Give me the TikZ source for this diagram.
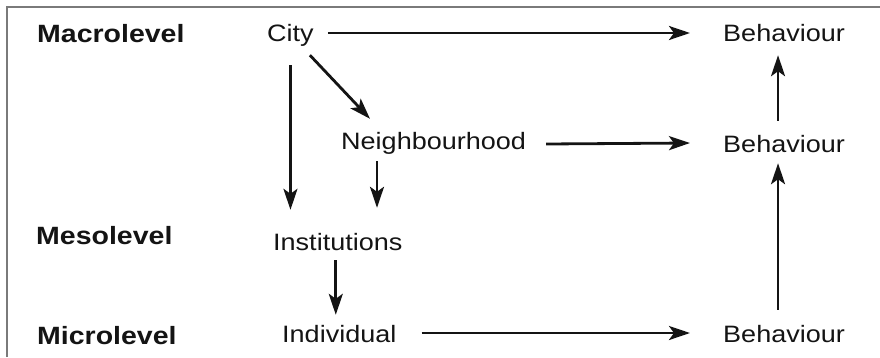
\documentclass[tikz,border=0pt]{standalone}
\usepackage{fontspec}
\setmainfont{Liberation Sans}[FakeStretch=1.14]
\usetikzlibrary{arrows.meta}
\definecolor{ink}{HTML}{141414}
\definecolor{framecol}{HTML}{7A7A7A}
\tikzset{
  lbl/.style={anchor=base west, inner sep=0pt, text=ink, text height=17pt, text depth=5pt,
              font=\fontsize{23.7pt}{28pt}\selectfont},
  lvl/.style={anchor=base west, inner sep=0pt, text=ink, text height=18pt, text depth=5pt,
              font=\fontsize{25pt}{30pt}\selectfont\bfseries},
  arr/.style={draw=ink, line width=2.8pt, -{Stealth[length=21pt, width=14pt, inset=5pt]}}
}
\begin{document}
\begin{tikzpicture}[x=1pt, y=-1pt]
\useasboundingbox (0,0) rectangle (880,357);
\draw[framecol, line width=2pt] (7,357) -- (7,7) -- (880,7);
% level labels
\node[lvl] (macro) at (37,42) {Macrolevel};
\node[lvl] (meso) at (36,244) {Mesolevel};
\node[lvl] (micro) at (37,344) {Microlevel};
% nodes
\node[lbl] (city) at (267,41) {City};
\node[lbl] (nh) at (341,149) {Neighbourhood};
\node[lbl] (inst) at (273,250) {Institutions};
\node[lbl] (ind) at (282,342) {Individual};
\node[lbl] (bt) at (723,41) {Behaviour};
\node[lbl] (bm) at (723,152) {Behaviour};
\node[lbl] (bb) at (723,342) {Behaviour};
% connectors
\draw[arr] ([shift={(14,-2)}]city.east) -- ([shift={(-33,-2)}]bt.west);
\draw[arr] ([shift={(20,1)}]nh.east) -- ([shift={(-33,-3)}]bm.west);
\draw[arr] ([shift={(25,-3)}]ind.east) -- ([shift={(-33,-3)}]bb.west);
\draw[arr] ([shift={(-6,-14)}]bm.north) -- ([shift={(-6,9)}]bt.south);
\draw[arr] ([shift={(-6,-15)}]bb.north) -- ([shift={(-6,6)}]bm.south);
\draw[arr] ([shift={(0,19)}]city.south) -- ([shift={(0,-23)}]city.south |- inst.north);
\draw[arr] ([shift={(-4,9)}]city.south east) -- ([shift={(29,-13)}]nh.north west);
\draw[arr] ([shift={(36,7)}]nh.south west) -- ([shift={(36,-25)}]nh.south west |- inst.north);
\draw[arr] ([shift={(-2,5)}]inst.south) -- ([shift={(-2,-10)}]inst.south |- ind.north);
\end{tikzpicture}
\end{document}
